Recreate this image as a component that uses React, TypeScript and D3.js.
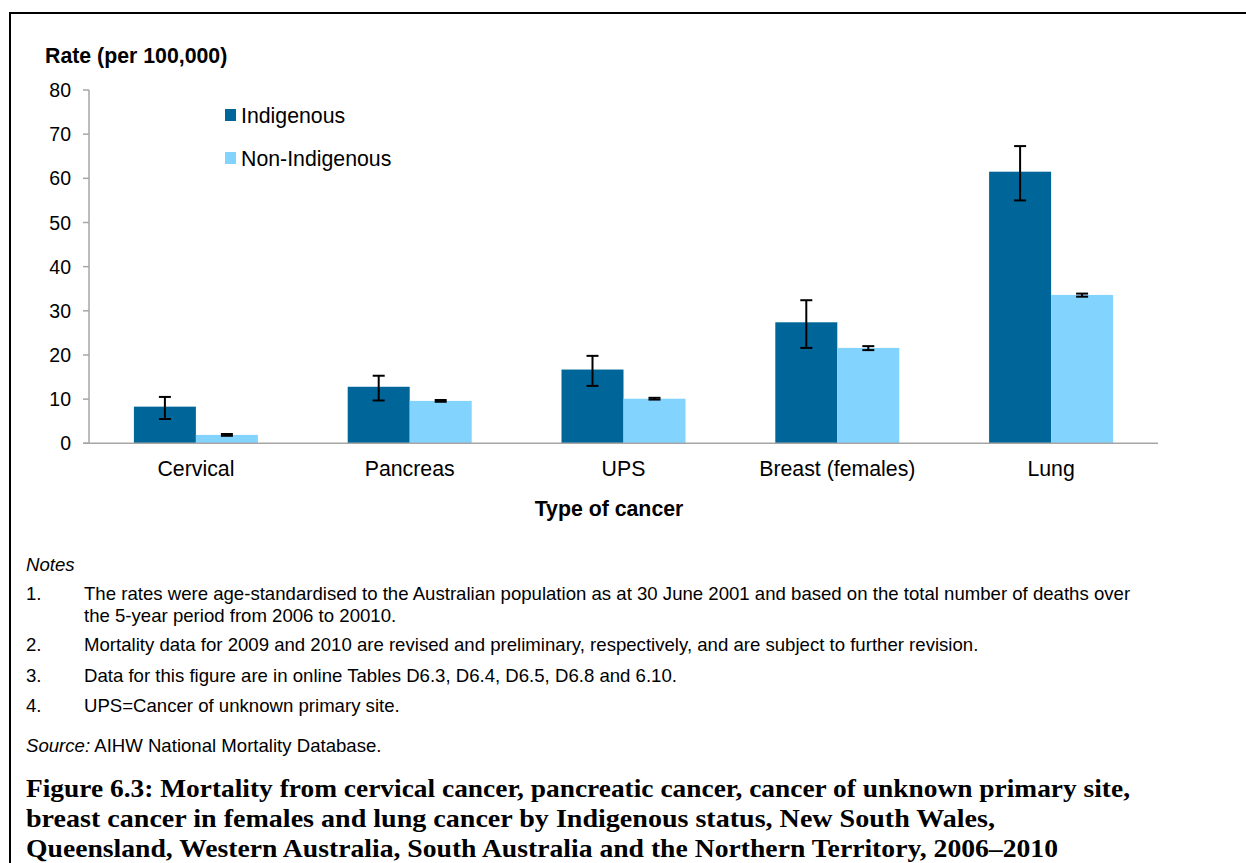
import React from "react";
import * as d3 from "d3";

const categories = ["Cervical", "Pancreas", "UPS", "Breast (females)", "Lung"];
const seriesNames = ["Indigenous", "Non-Indigenous"];
const indigenous = [8.3, 12.8, 16.7, 27.4, 61.5];
const indigenousLow = [5.5, 9.7, 13.0, 21.6, 55.0];
const indigenousHigh = [10.5, 15.3, 19.8, 32.4, 67.3];
const nonIndigenous = [1.9, 9.6, 10.1, 21.6, 33.6];
const nonIndigenousLow = [1.7, 9.4, 9.9, 21.1, 33.2];
const nonIndigenousHigh = [2.1, 9.8, 10.3, 22.0, 33.9];
const yTicks = [0, 10, 20, 30, 40, 50, 60, 70, 80];

const notes = [
  ["1.", "The rates were age-standardised to the Australian population as at 30 June 2001 and based on the total number of deaths over"],
  ["", "the 5-year period from 2006 to 20010."],
  ["2.", "Mortality data for 2009 and 2010 are revised and preliminary, respectively, and are subject to further revision."],
  ["3.", "Data for this figure are in online Tables D6.3, D6.4, D6.5, D6.8 and 6.10."],
  ["4.", "UPS=Cancer of unknown primary site."],
];
const captionLines = [
  "Figure 6.3: Mortality from cervical cancer, pancreatic cancer, cancer of unknown primary site,",
  "breast cancer in females and lung cancer by Indigenous status, New South Wales,",
  "Queensland, Western Australia, South Australia and the Northern Territory, 2006\u20132010",
];
const captionWidths = [1104, 969, 1032];

const colors = ["#006699", "#83D3FF"];

export default function App() {
  const W = 1246, H = 863;
  const x0 = d3.scaleBand<string>().domain(categories).range([89, 1158]).paddingInner(0.42).paddingOuter(0.21);
  const x1 = d3.scaleBand<string>().domain(seriesNames).range([0, x0.bandwidth()]).padding(0);
  const y = d3.scaleLinear().domain([0, 80]).range([443.3, 90]);

  const series = [
    { name: seriesNames[0], vals: indigenous, lo: indigenousLow, hi: indigenousHigh },
    { name: seriesNames[1], vals: nonIndigenous, lo: nonIndigenousLow, hi: nonIndigenousHigh },
  ];
  const sans = "Liberation Sans, Arial, sans-serif";
  const noteY = [600, 622, 651, 682, 712];
  const capY = [797, 827, 857];
  const fs = 21.3;
  const nfs = 18.6;

  return (
    <svg width={W} height={H} style={{ position: "absolute", left: 0, top: 0, background: "#fff" }} fontFamily={sans}>
      <rect x={0} y={0} width={W} height={H} fill="#fff" />
      {/* frame */}
      <line x1={10} x2={10} y1={12} y2={H} stroke="#000" strokeWidth={2} />
      <line x1={9} x2={W} y1={13} y2={13} stroke="#000" strokeWidth={2} />

      <text x={45} y={63} fontSize={fs} fontWeight="bold" fill="#000">Rate (per 100,000)</text>

      {/* y axis */}
      <line x1={89} x2={89} y1={y(80)} y2={y(0)} stroke="#a6a6a6" strokeWidth={1.5} />
      {yTicks.map((t) => (
        <g key={t}>
          <line x1={83} x2={89} y1={y(t)} y2={y(t)} stroke="#a6a6a6" strokeWidth={1.5} />
          <text x={71} y={y(t)} dy="0.36em" textAnchor="end" fontSize={19.5} fill="#000">{t}</text>
        </g>
      ))}

      {/* bars */}
      {series.map((s, si) => (
        <g key={s.name}>
          {categories.map((c, i) => {
            const bx = (x0(c) ?? 0) + (x1(s.name) ?? 0);
            const bw = x1.bandwidth();
            const cx = bx + bw / 2;
            return (
              <g key={c}>
                <rect x={bx} y={y(s.vals[i])} width={bw} height={y(0) - y(s.vals[i])} fill={colors[si]} />
                <line x1={cx} x2={cx} y1={y(s.hi[i])} y2={y(s.lo[i])} stroke="#000" strokeWidth={2} />
                <line x1={cx - 6} x2={cx + 6} y1={y(s.hi[i])} y2={y(s.hi[i])} stroke="#000" strokeWidth={2} />
                <line x1={cx - 6} x2={cx + 6} y1={y(s.lo[i])} y2={y(s.lo[i])} stroke="#000" strokeWidth={2} />
              </g>
            );
          })}
        </g>
      ))}

      {/* x axis */}
      <line x1={83} x2={1158} y1={y(0)} y2={y(0)} stroke="#a6a6a6" strokeWidth={1.5} />
      {categories.map((c) => (
        <text key={c} x={(x0(c) ?? 0) + x0.bandwidth() / 2} y={476} textAnchor="middle" fontSize={fs} fill="#000">{c}</text>
      ))}
      <text x={609} y={516} textAnchor="middle" fontSize={fs} fontWeight="bold" fill="#000">Type of cancer</text>

      {/* legend */}
      {seriesNames.map((n, i) => (
        <g key={n}>
          <rect x={225} y={109 + i * 43} width={11} height={12} fill={colors[i]} />
          <text x={241} y={115 + i * 43} dy="0.36em" fontSize={fs} fill="#000">{n}</text>
        </g>
      ))}

      {/* notes */}
      <text x={26} y={571} fontSize={nfs} fontStyle="italic" fill="#000">Notes</text>
      {notes.map((n, i) => (
        <g key={i}>
          {n[0] && <text x={26} y={noteY[i]} fontSize={nfs} fill="#000">{n[0]}</text>}
          <text x={84} y={noteY[i]} fontSize={nfs} fill="#000">{n[1]}</text>
        </g>
      ))}
      <text x={26} y={752} fontSize={nfs} fill="#000">
        <tspan fontStyle="italic">Source:</tspan> AIHW National Mortality Database.
      </text>

      {/* caption */}
      {captionLines.map((l, i) => (
        <text key={i} x={26} y={capY[i]} fontSize={24.5} fontWeight="bold" fontFamily="Liberation Serif, serif"
          textLength={captionWidths[i]} lengthAdjust="spacingAndGlyphs" fill="#000">{l}</text>
      ))}
    </svg>
  );
}
